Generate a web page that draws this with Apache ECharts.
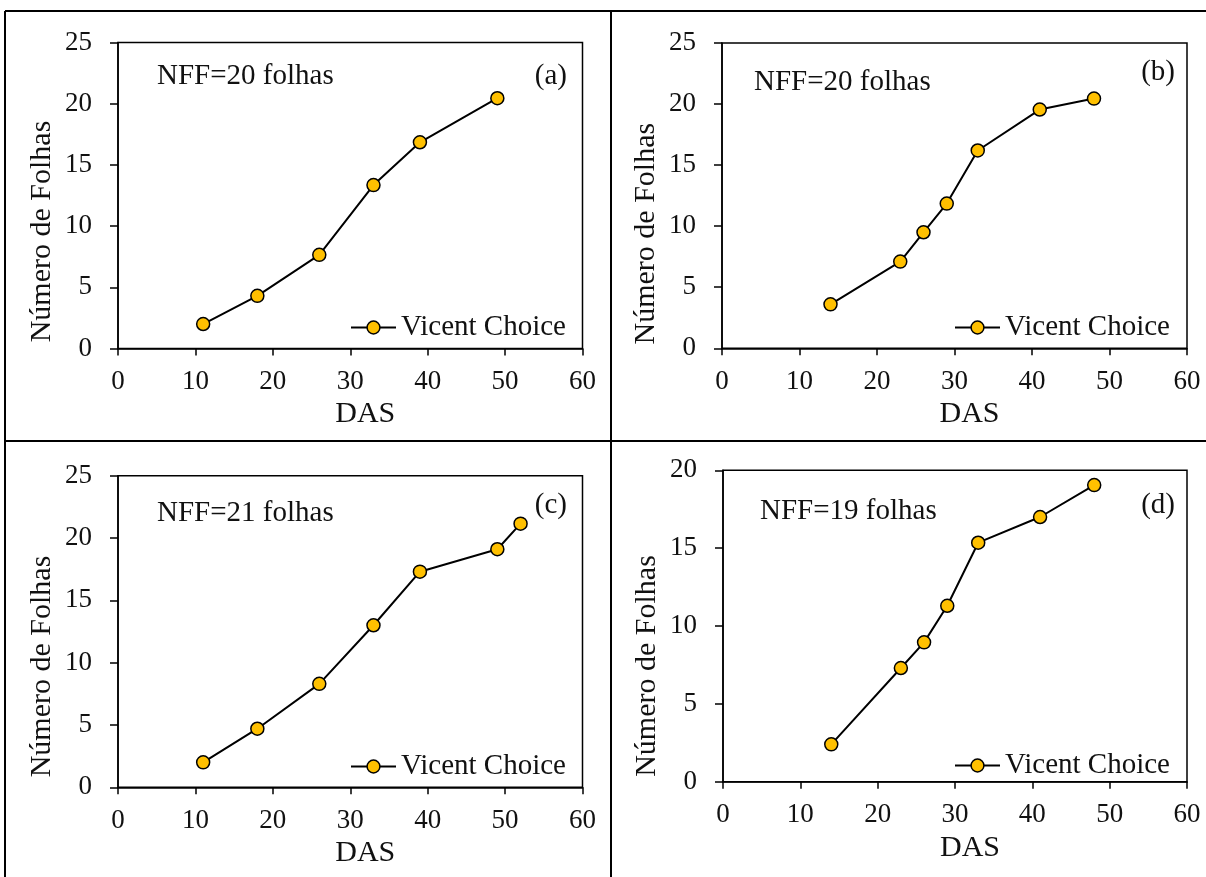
<!DOCTYPE html>
<html>
<head>
<meta charset="utf-8">
<script src="https://cdn.jsdelivr.net/npm/echarts@6/dist/echarts.min.js"></script>
<style>
html,body{margin:0;padding:0;background:#fff;}
#c{width:1206px;height:877px;}
</style>
</head>
<body>
<div id="c"></div>
<script>
// ---- data ----
var seriesName = 'Vicent Choice';
var dasA = [11, 18, 26, 33, 39, 49];
var folhasA = [2.0, 4.3, 7.65, 13.35, 16.85, 20.45];
var dasB = [14, 23, 26, 29, 33, 41, 48];
var folhasB = [3.6, 7.1, 9.5, 11.85, 16.2, 19.55, 20.45];
var dasC = [11, 18, 26, 33, 39, 49, 52];
var folhasC = [2.0, 4.7, 8.3, 13.0, 17.3, 19.1, 21.15];
var dasD = [14, 23, 26, 29, 33, 41, 48];
var folhasD = [2.4, 7.3, 8.95, 11.3, 15.35, 17.0, 19.05];
var nffLabels = ['NFF=20 folhas', 'NFF=20 folhas', 'NFF=21 folhas', 'NFF=19 folhas'];
var panelLabels = ['(a)', '(b)', '(c)', '(d)'];
var yMaxs = [25, 25, 25, 20];
var xAxisName = 'DAS';
var yAxisName = 'Número de Folhas';

var FONT = 'Liberation Serif';
var panels = [
  {das: dasA, v: folhasA},
  {das: dasB, v: folhasB},
  {das: dasC, v: folhasC},
  {das: dasD, v: folhasD}
];
var grids = [
  {left: 118, top: 42.5, width: 464.5, height: 306},
  {left: 722, top: 43, width: 465, height: 305.3},
  {left: 118, top: 475.7, width: 464.5, height: 311.6},
  {left: 723, top: 470.3, width: 464, height: 311.4}
];
var nffPos = [[157, 78], [754, 84], [157, 515], [760, 513]];
var lblPos = [[567, 78], [1175, 74], [567, 507], [1175, 507]];
var legPos = [[350, 329], [954, 329], [350, 768], [954, 767]];
var yNameShift = [36, 38, 35, 40];

var option = {
  backgroundColor: '#fff',
  animation: false,
  textStyle: {fontFamily: FONT},
  grid: [], xAxis: [], yAxis: [], series: [], legend: [], graphic: []
};
panels.forEach(function (p, i) {
  var g = grids[i];
  option.grid.push({left: g.left, top: g.top, width: g.width, height: g.height,
    show: true, borderColor: '#000', borderWidth: 1.5, backgroundColor: 'transparent', containLabel: false});
  option.xAxis.push({
    type: 'value', gridIndex: i, min: 0, max: 60, interval: 10,
    name: xAxisName, nameLocation: 'middle', nameGap: 51,
    nameTextStyle: {fontFamily: FONT, fontSize: 30, color: '#111', padding: [0, 0, 0, 30]},
    axisLine: {show: true, onZero: false, lineStyle: {color: '#000', width: 1.5}},
    axisTick: {show: true, inside: false, length: 7, lineStyle: {color: '#000', width: 1.5}},
    axisLabel: {fontFamily: FONT, fontSize: 27, color: '#111', margin: 20},
    splitLine: {show: false}
  });
  option.yAxis.push({
    type: 'value', gridIndex: i, min: 0, max: yMaxs[i], interval: 5,
    name: yAxisName, nameLocation: 'middle', nameGap: 61, nameRotate: 90,
    nameTextStyle: {fontFamily: FONT, fontSize: 30, color: '#111', padding: [0, yNameShift[i] * 2, 0, 0]},
    axisLine: {show: true, onZero: false, lineStyle: {color: '#000', width: 1.5}},
    axisTick: {show: true, inside: false, length: 8, lineStyle: {color: '#000', width: 1.5}},
    axisLabel: {fontFamily: FONT, fontSize: 27, color: '#111', margin: 26},
    splitLine: {show: false}
  });
  option.series.push({
    name: seriesName, type: 'line', xAxisIndex: i, yAxisIndex: i,
    data: p.das.map(function (d, k) { return [d, p.v[k]]; }),
    symbol: 'circle', symbolSize: 13, showSymbol: true,
    lineStyle: {color: '#000', width: 2},
    itemStyle: {color: '#FFC000', borderColor: '#000', borderWidth: 1.5},
    emphasis: {disabled: true}
  });
  option.legend.push({
    data: [seriesName], left: legPos[i][0], top: legPos[i][1] - 16, padding: 0,
    itemWidth: 45, itemHeight: 16, itemGap: 0,
    itemStyle: {color: '#FFC000', borderColor: '#000', borderWidth: 1.5},
    lineStyle: {color: '#000', width: 2},
    textStyle: {fontFamily: FONT, fontSize: 29, color: '#111', padding: [0, 0, 0, 0]},
    selectedMode: false
  });
  option.graphic.push({
    type: 'text', left: nffPos[i][0], top: nffPos[i][1] - 16,
    style: {text: nffLabels[i], fontFamily: FONT, fontSize: 29, fill: '#111'}
  });
  option.graphic.push({
    type: 'text', right: 1206 - lblPos[i][0], top: lblPos[i][1] - 16,
    style: {text: panelLabels[i], fontFamily: FONT, fontSize: 29, fill: '#111'}
  });
});
// panel frame lines
option.graphic.push(
  {type: 'line', shape: {x1: 5, y1: 11, x2: 1206, y2: 11}, style: {stroke: '#000', lineWidth: 2}},
  {type: 'line', shape: {x1: 5, y1: 441, x2: 1206, y2: 441}, style: {stroke: '#000', lineWidth: 2}},
  {type: 'line', shape: {x1: 5, y1: 11, x2: 5, y2: 877}, style: {stroke: '#000', lineWidth: 2}},
  {type: 'line', shape: {x1: 611, y1: 11, x2: 611, y2: 877}, style: {stroke: '#000', lineWidth: 2}}
);
var chart = echarts.init(document.getElementById('c'), null, {renderer: 'canvas'});
chart.setOption(option);
</script>
</body>
</html>
